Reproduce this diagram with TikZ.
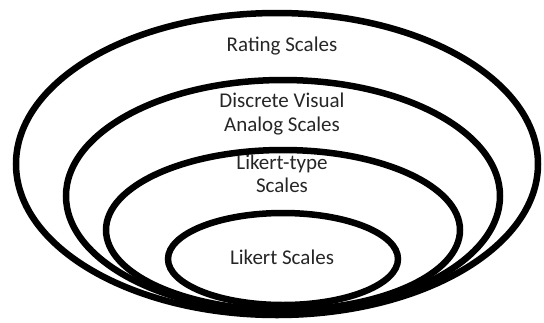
\documentclass[tikz,border=0pt]{standalone}
\usepackage{fontspec}
\setmainfont{Carlito}
\usetikzlibrary{shapes.geometric}
\begin{document}
\begin{tikzpicture}[x=1pt,y=-1pt,
  ring/.style={ellipse,draw=black,line width=6.5pt,inner sep=0pt,fill=none},
  lbl/.style={font=\fontsize{21}{23.5}\selectfont,align=center,text=black!85}]
\useasboundingbox (0,0) rectangle (544,322);
% nested scale sets, all resting near the same bottom edge
\node[ring,minimum width=522pt,minimum height=302pt] (rating) at (277,164) {};
\node[ring,minimum width=434pt,minimum height=232pt] (dvas) at (283,196) {};
\node[ring,minimum width=354pt,minimum height=160pt] (ltype) at (283,230) {};
\node[ring,minimum width=230pt,minimum height=92pt] (likert) at (283,259) {};
% labels
\node[lbl] (tRating) at (282,46) {Rating Scales};
\node[lbl] (tDvas) at (282,114) {Discrete Visual\\Analog Scales};
\node[lbl] (tLtype) at (282,174) {Likert-type\\Scales};
\node[lbl] (tLikert) at (282,257) {Likert Scales};
\end{tikzpicture}
\end{document}
